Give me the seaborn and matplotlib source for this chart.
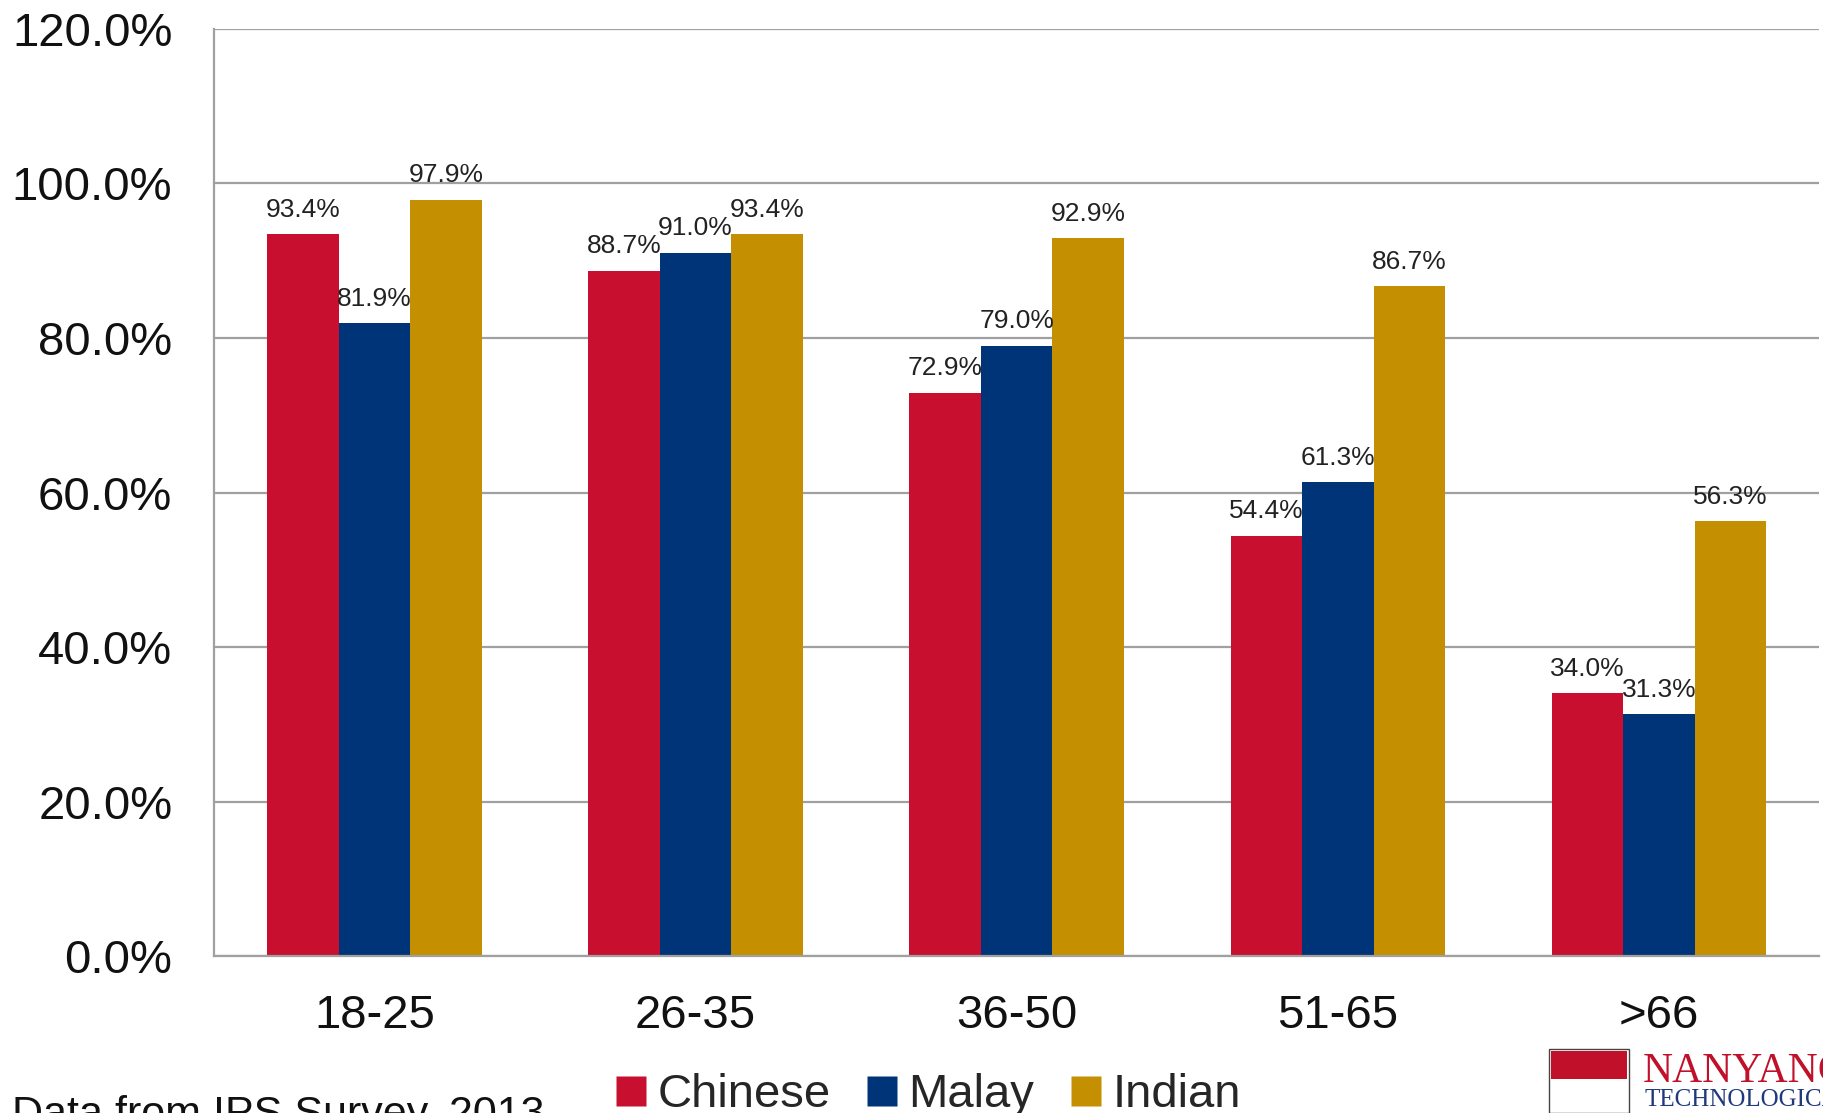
import pandas as pd
import numpy as np
import matplotlib
matplotlib.use('Agg')
import matplotlib.pyplot as plt
from matplotlib.lines import Line2D
from matplotlib.patches import Rectangle
import seaborn as sns

# data
ages = ['18-25', '26-35', '36-50', '51-65', '>66']
groups = ['Chinese', 'Malay', 'Indian']
chinese = [93.4, 88.7, 72.9, 54.4, 34.0]
malay = [81.9, 91.0, 79.0, 61.3, 31.3]
indian = [97.9, 93.4, 92.9, 86.7, 56.3]
yticks = [0, 20, 40, 60, 80, 100, 120]

colors = ['#C80F2F', '#003478', '#C48F00']

df = pd.DataFrame({'Age': ages * 3,
                   'Group': [g for g in groups for _ in ages],
                   'Value': chinese + malay + indian})

sns.set_style('white')
plt.rcParams['font.family'] = ['Liberation Sans', 'DejaVu Sans']

fig = plt.figure(figsize=(18.24, 11.13), dpi=100)
ax = fig.add_axes([0.1173, 0.141, 0.8802, 0.833])

sns.barplot(data=df, x='Age', y='Value', hue='Group', palette=colors,
            width=0.668, gap=0, saturation=1, ax=ax, legend=False,
            edgecolor='none')

# value labels
for cont in ax.containers:
    for bar in cont:
        h = bar.get_height()
        ax.annotate('%.1f%%' % h, (bar.get_x() + bar.get_width() / 2, h),
                    xytext=(0, 9), textcoords='offset points',
                    ha='center', va='bottom', fontsize=19, color='#222222')

ax.set_ylim(0, 120)
ax.set_xlim(-0.5, 4.5)
ax.set_yticks(yticks)
ax.set_yticklabels(['%.1f%%' % v for v in yticks])
ax.set_xlabel('')
ax.set_ylabel('')
ax.yaxis.grid(True, color='#A0A0A0', linewidth=1.6)
ax.set_axisbelow(True)
for s in ['top', 'right']:
    ax.spines[s].set_visible(False)
for s in ['left', 'bottom']:
    ax.spines[s].set_color('#A0A0A0')
    ax.spines[s].set_linewidth(1.6)

ax.set_xticks(np.arange(-0.5, 5, 1), minor=True)
ax.tick_params(axis='x', which='major', length=0, pad=27, labelsize=34, labelcolor='#111111')
ax.tick_params(axis='x', which='minor', length=9, width=1.6, color='#A0A0A0', direction='out')
ax.tick_params(axis='y', length=0, pad=30, labelsize=34, labelcolor='#111111')

handles = [Line2D([0], [0], marker='s', linestyle='none', markersize=22,
                  markerfacecolor=c, markeredgecolor='none') for c in colors]
fig.legend(handles, groups, loc='center', bbox_to_anchor=(0.508, 0.016), ncol=3,
           frameon=False, fontsize=34, handletextpad=0.15, columnspacing=0.7,
           handlelength=0.8, borderaxespad=0)

fig.text(0.0066, 0.016, 'Data from IPS Survey, 2013', fontsize=31, va='top', ha='left',
         color='#111111')

# university mark, bottom right corner
fig.patches.append(Rectangle((1549 / 1824, 0), 80 / 1824, 64 / 1113,
                             transform=fig.transFigure, facecolor='white',
                             edgecolor='#444444', linewidth=1))
fig.patches.append(Rectangle((1551 / 1824, 34 / 1113), 76 / 1824, 28 / 1113,
                             transform=fig.transFigure, facecolor='#C0102A',
                             edgecolor='none'))
fig.text(1643 / 1824, 1 - 1052 / 1113, 'NANYANG', fontsize=30, color='#C0102A',
         family='Liberation Serif', va='top', ha='left')
fig.text(1645 / 1824, 1 - 1089 / 1113, 'TECHNOLOGICAL', fontsize=18, color='#1F3A7A',
         family='Liberation Serif', va='top', ha='left')

plt.savefig('out.png', dpi=100)
